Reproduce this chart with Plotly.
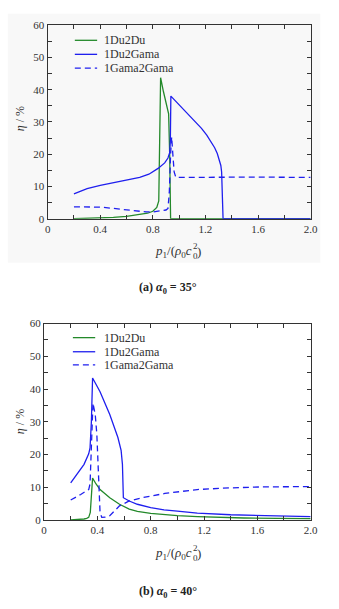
import plotly.graph_objects as go

W, H = 339, 609

# ---- (a) alpha0 = 35 deg ----
p_a_du2du = [0.2, 0.3, 0.4, 0.5, 0.6, 0.7, 0.76, 0.80, 0.83, 0.845, 0.859, 0.88, 0.903, 0.92, 0.928, 0.935, 1.2, 1.6, 2.0]
eta_a_du2du = [0.0, 0.1, 0.2, 0.4, 0.7, 1.2, 1.7, 2.3, 3.5, 5.5, 43.7, 39.5, 35.6, 32.5, 20.0, 0.0, 0.0, 0.0, 0.0]

p_a_du2gama = [0.2, 0.25, 0.3, 0.4, 0.5, 0.6, 0.7, 0.77, 0.84, 0.89, 0.915, 0.928, 0.933, 0.937,
               1.0, 1.05, 1.11, 1.17, 1.21, 1.24, 1.27, 1.29, 1.305, 1.317, 1.323, 1.328, 1.334, 1.6, 2.0]
eta_a_du2gama = [7.7, 8.6, 9.3, 10.3, 11.1, 11.9, 12.8, 13.8, 15.6, 17.3, 18.8, 20.5, 24.0, 38.0,
                 35.3, 33.2, 30.6, 28.0, 25.9, 24.0, 22.0, 20.2, 18.5, 16.5, 14.5, 9.0, 0.0, 0.0, 0.0]

p_a_gama2gama = [0.2, 0.3, 0.4, 0.5, 0.6, 0.7, 0.75, 0.8, 0.85, 0.9, 0.915, 0.925, 0.935, 0.943,
                 0.952, 0.962, 0.975, 1.2, 1.6, 2.0]
eta_a_gama2gama = [3.7, 3.7, 3.6, 3.2, 2.7, 2.3, 2.1, 2.1, 2.3, 2.7, 3.2, 8.0, 20.0, 25.3,
                   20.0, 14.5, 12.8, 12.9, 12.9, 12.8]

# ---- (b) alpha0 = 40 deg ----
p_b_du2du = [0.2, 0.25, 0.3, 0.32, 0.335, 0.347, 0.364, 0.39, 0.42, 0.493, 0.566, 0.639, 0.7,
             0.8, 0.9, 1.0, 1.15, 1.3, 1.5, 1.75, 2.0]
eta_b_du2du = [0.0, 0.1, 0.3, 0.5, 0.8, 2.3, 12.8, 11.0, 9.3, 6.8, 4.8, 3.3, 2.6,
               2.0, 1.6, 1.3, 1.0, 0.8, 0.6, 0.5, 0.4]

p_b_du2gama = [0.2, 0.25, 0.275, 0.3, 0.335, 0.345, 0.355, 0.364, 0.42, 0.493, 0.554, 0.578, 0.588,
               0.595, 0.639, 0.7, 0.8, 0.9, 1.0, 1.15, 1.4, 1.63, 2.0]
eta_b_du2gama = [11.3, 14.0, 15.7, 17.0, 20.2, 22.0, 30.0, 43.4, 39.2, 32.2, 25.2, 21.3, 17.0,
                 6.8, 5.8, 4.8, 3.8, 3.1, 2.7, 2.1, 1.6, 1.3, 1.0]

p_b_gama2gama = [0.2, 0.25, 0.275, 0.31, 0.335, 0.345, 0.355, 0.367, 0.384, 0.396, 0.408, 0.42, 0.433,
                 0.46, 0.493, 0.566, 0.639, 0.736, 0.906, 1.149, 1.39, 1.634, 2.0]
eta_b_gama2gama = [6.1, 7.1, 7.8, 8.7, 9.3, 11.0, 24.0, 35.7, 32.2, 26.2, 14.3, 2.3, 0.8,
                   0.9, 1.3, 4.3, 5.8, 6.8, 8.1, 9.3, 9.8, 10.1, 10.2]

series_names = ["1Du2Du", "1Du2Gama", "1Gama2Gama"]
x_ticks = [0, 0.4, 0.8, 1.2, 1.6, 2.0]
x_tick_text = ["0", "0.4", "0.8", "1.2", "1.6", "2.0"]
y_ticks = [0, 10, 20, 30, 40, 50, 60]
captions = ["<b>(a) <i>α</i><sub>0</sub> = 35°</b>", "<b>(b) <i>α</i><sub>0</sub> = 40°</b>"]

GREEN = "#23892a"
BLUE = "#1f1fee"
TXT = "#333333"
FONT = "Liberation Serif, Times New Roman, serif"
LW = 1.3
DASH = "6px,4px"


def px(x):
    return x / W


def py(y):
    return 1 - y / H


# panel boxes in pixels: (left, right, top, bottom)
panels = [(46, 317, 19.5, 217), (42.3, 317, 324, 524.3)]

fig = go.Figure()

data_sets = [
    [(p_a_du2du, eta_a_du2du), (p_a_du2gama, eta_a_du2gama), (p_a_gama2gama, eta_a_gama2gama)],
    [(p_b_du2du, eta_b_du2du), (p_b_du2gama, eta_b_du2gama), (p_b_gama2gama, eta_b_gama2gama)],
]
styles = [dict(color=GREEN, width=LW), dict(color=BLUE, width=LW), dict(color=BLUE, width=LW, dash=DASH)]

for k, sets in enumerate(data_sets):
    xa = "x" if k == 0 else "x2"
    ya = "y" if k == 0 else "y2"
    for (xs, ys), st, nm in zip(sets, styles, series_names):
        fig.add_trace(go.Scatter(x=xs, y=ys, mode="lines", line=st, name=nm,
                                 xaxis=xa, yaxis=ya, showlegend=False))

axis_common = dict(showline=True, linecolor=TXT, linewidth=1.2, mirror="ticks",
                   ticks="inside", ticklen=4, tickwidth=1, tickcolor=TXT,
                   showgrid=False, zeroline=False,
                   tickfont=dict(family=FONT, size=11, color=TXT))

layout = dict(width=W, height=H, margin=dict(l=0, r=0, t=0, b=0),
              paper_bgcolor="white", plot_bgcolor="rgba(0,0,0,0)",
              font=dict(family=FONT, color=TXT), showlegend=False)

for k, (l, r, t, b) in enumerate(panels):
    sx = "" if k == 0 else "2"
    layout["xaxis" + sx] = dict(axis_common, domain=[px(l), px(r)], range=[0, 2],
                                anchor="y" + sx, tickvals=x_ticks, ticktext=x_tick_text,
                                minor=dict(dtick=0.2, ticks="inside", ticklen=4, tickcolor=TXT))
    layout["yaxis" + sx] = dict(axis_common, domain=[py(b), py(t)], range=[0, 60],
                                anchor="x" + sx, tickvals=y_ticks,
                                minor=dict(dtick=5, ticks="inside", ticklen=4, tickcolor=TXT))

fig.update_layout(**layout)

shapes = []
annotations = []

# faint sheet behind the upper panel
shapes.append(dict(type="rect", xref="paper", yref="paper", x0=px(5), x1=px(327), y0=py(262), y1=py(8),
                   fillcolor="#f8f8f8", line=dict(width=0), layer="below"))

legend_rows = [[35, 49.3, 63.3], [338.3, 352.7, 366]]
legend_x = [(74, 97, 102), (72, 95, 102)]
for k in range(2):
    x0, x1, xt = legend_x[k]
    for st, nm, yy in zip(styles, series_names, legend_rows[k]):
        shapes.append(dict(type="line", xref="paper", yref="paper", x0=px(x0), x1=px(x1),
                           y0=py(yy), y1=py(yy), line=st))
        annotations.append(dict(text=nm, xref="paper", yref="paper", x=px(xt), y=py(yy),
                                xanchor="left", yanchor="middle", showarrow=False,
                                font=dict(family=FONT, size=12, color=TXT)))

ytitle_y = [115, 424]
xtitle_y = [250, 558]
caption_y = [288, 598]
for k in range(2):
    # y-axis title
    annotations.append(dict(text="<i>η</i> / %", xref="paper", yref="paper", x=px(17), y=py(ytitle_y[k]),
                            textangle=-90, showarrow=False, xanchor="center", yanchor="middle",
                            font=dict(family=FONT, size=12, color=TXT)))
    # x-axis title: p1/(rho0 c0^2) with stacked indices on c
    yc = xtitle_y[k]
    annotations.append(dict(text="<i>p</i><sub>1</sub>/(<i>ρ</i><sub>0</sub><i>c</i>",
                            xref="paper", yref="paper", x=px(197), y=py(yc),
                            xanchor="right", yanchor="middle", showarrow=False,
                            font=dict(family=FONT, size=13, color=TXT)))
    annotations.append(dict(text="2", xref="paper", yref="paper", x=px(193.5), y=py(yc - 5),
                            xanchor="left", yanchor="middle", showarrow=False,
                            font=dict(family=FONT, size=9, color=TXT)))
    annotations.append(dict(text="0", xref="paper", yref="paper", x=px(193.5), y=py(yc + 5),
                            xanchor="left", yanchor="middle", showarrow=False,
                            font=dict(family=FONT, size=9, color=TXT)))
    annotations.append(dict(text=")", xref="paper", yref="paper", x=px(197.5), y=py(yc),
                            xanchor="left", yanchor="middle", showarrow=False,
                            font=dict(family=FONT, size=13, color=TXT)))
    # panel caption
    annotations.append(dict(text=captions[k], xref="paper", yref="paper", x=px(170), y=py(caption_y[k]),
                            xanchor="center", yanchor="middle", showarrow=False,
                            font=dict(family=FONT, size=12, color="#222222")))

fig.update_layout(shapes=shapes, annotations=annotations)
fig.write_html("out.html")
